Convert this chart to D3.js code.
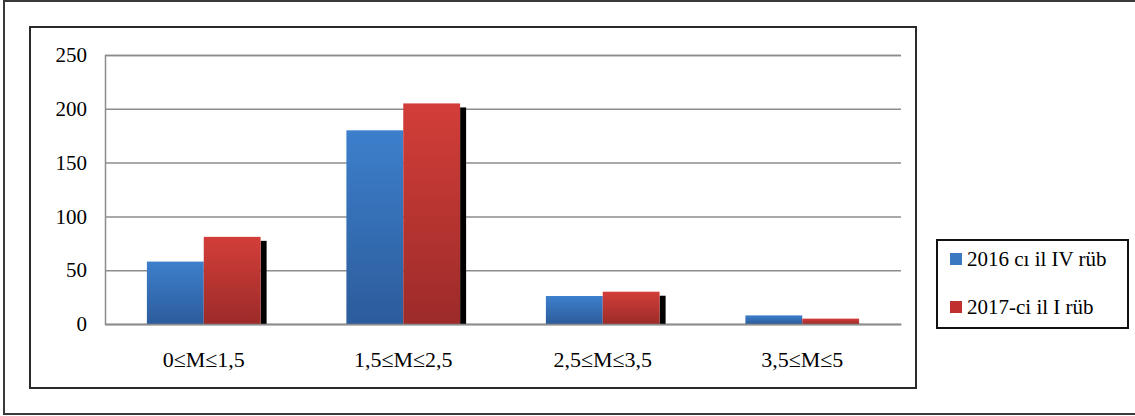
<!DOCTYPE html>
<html>
<head>
<meta charset="utf-8">
<script src="https://cdn.jsdelivr.net/npm/d3@7"></script>
<style>
  html, body { margin: 0; padding: 0; background: #fff; }
  svg { display: block; }
  text { font-family: "Liberation Serif", "Times New Roman", serif; fill: #000; }
</style>
</head>
<body>
<svg id="chart" width="1135" height="416"></svg>
<script>
const categories = ["0≤M≤1,5", "1,5≤M≤2,5", "2,5≤M≤3,5", "3,5≤M≤5"];
const seriesNames = ["2016 cı il IV rüb", "2017-ci il I rüb"];
const series2016 = [58, 180, 26, 8];
const series2017 = [81, 205, 30, 5];
const yTicks = [0, 50, 100, 150, 200, 250];

const svg = d3.select("#chart");
const defs = svg.append("defs");
const gradSpec = [
  { id: "gBlue", top: "#3d7fcc", bottom: "#2c5c9b" },
  { id: "gRed", top: "#d33e39", bottom: "#9c2b29" }
];
gradSpec.forEach(g => {
  const lg = defs.append("linearGradient").attr("id", g.id)
    .attr("x1", 0).attr("y1", 0).attr("x2", 0).attr("y2", 1);
  lg.append("stop").attr("offset", "0%").attr("stop-color", g.top);
  lg.append("stop").attr("offset", "100%").attr("stop-color", g.bottom);
});

// Outer and inner frames
svg.append("rect").attr("x", 4).attr("y", 1).attr("width", 1150).attr("height", 413)
  .attr("fill", "none").attr("stroke", "#3a3a3a").attr("stroke-width", 2);
svg.append("rect").attr("x", 30).attr("y", 27).attr("width", 886).attr("height", 361)
  .attr("fill", "none").attr("stroke", "#2a2a2a").attr("stroke-width", 2);

const plot = { left: 105, right: 901, top: 55, bottom: 324 };
const y = d3.scaleLinear().domain([0, 250]).range([plot.bottom, plot.top]);
const x0 = d3.scaleBand().domain(categories).range([plot.left, plot.right])
  .paddingInner(0.43).paddingOuter(0.21);
const x1 = d3.scaleBand().domain(seriesNames).range([0, x0.bandwidth()]);

// gridlines
const yAxis = d3.axisLeft(y).tickValues(yTicks).tickSize(-(plot.right - plot.left)).tickPadding(18);
const gy = svg.append("g").attr("transform", `translate(${plot.left},0)`).call(yAxis);
gy.select(".domain").attr("stroke", "#8c8c8c").attr("stroke-width", 1.5);
gy.selectAll(".tick line").attr("stroke", "#8c8c8c").attr("stroke-width", 1.5);
gy.selectAll(".tick text").attr("font-size", 21).attr("font-family", "Liberation Serif");

// bars
const colors = ["url(#gBlue)", "url(#gRed)"];
const data = categories.map((c, i) => ({ cat: c, vals: [series2016[i], series2017[i]] }));
const groups = svg.append("g").selectAll("g").data(data).join("g")
  .attr("transform", d => `translate(${x0(d.cat)},0)`);

// shadow for red bar
groups.filter(d => plot.bottom - (y(d.vals[1]) + 4) > 2).append("rect")
  .attr("x", x1(seriesNames[1]) + x1.bandwidth())
  .attr("width", 6)
  .attr("y", d => y(d.vals[1]) + 4)
  .attr("height", d => plot.bottom - (y(d.vals[1]) + 4))
  .attr("fill", "#000");

groups.selectAll("rect.bar").data(d => d.vals.map((v, j) => ({ v, j }))).join("rect")
  .attr("class", "bar")
  .attr("x", d => x1(seriesNames[d.j]))
  .attr("width", x1.bandwidth())
  .attr("y", d => y(d.v))
  .attr("height", d => plot.bottom - y(d.v))
  .attr("fill", d => colors[d.j]);

// bottom axis
const xAxis = d3.axisBottom(x0).tickSize(0).tickPadding(27);
const gx = svg.append("g").attr("transform", `translate(0,${plot.bottom})`).call(xAxis);
gx.select(".domain").attr("stroke", "#8c8c8c").attr("stroke-width", 1.5);
gx.selectAll(".tick text").attr("font-size", 22).attr("font-family", "Liberation Serif");

// legend
const legend = svg.append("g");
legend.append("rect").attr("x", 937).attr("y", 240).attr("width", 191).attr("height", 88)
  .attr("fill", "#fff").attr("stroke", "#111").attr("stroke-width", 2);
const legendFill = ["#3a78c2", "#c0302e"];
seriesNames.forEach((s, i) => {
  const cy = 259 + i * 48;
  legend.append("rect").attr("x", 950).attr("y", cy - 6).attr("width", 12).attr("height", 12)
    .attr("fill", legendFill[i]);
  legend.append("text").attr("x", 967).attr("y", cy + 7).attr("font-size", 21).text(s);
});
</script>
</body>
</html>
